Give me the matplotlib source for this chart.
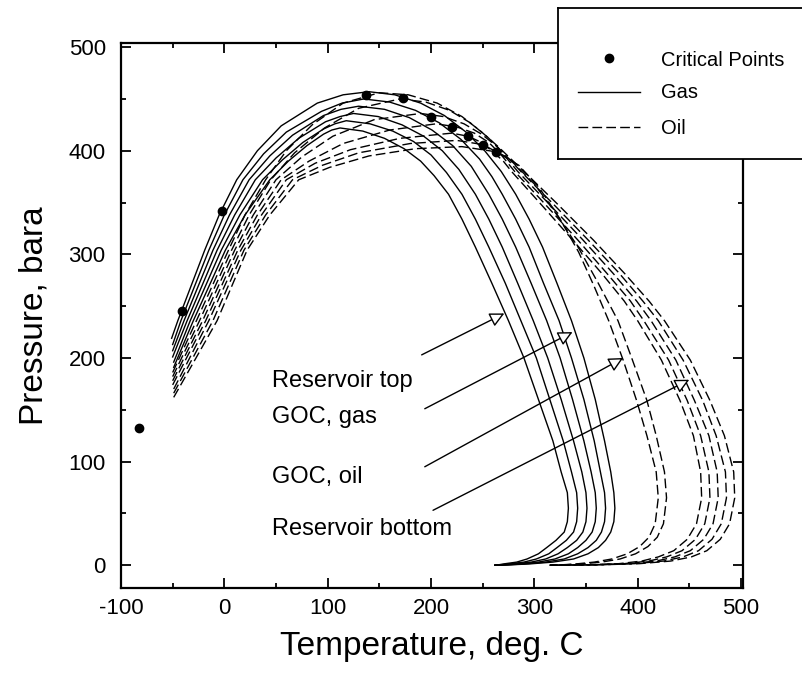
"""
Phase envelopes of gas and oil samples with critical points.
"""

import matplotlib
matplotlib.use("Agg")
import matplotlib.pyplot as plt
from matplotlib.lines import Line2D

plt.rcParams["font.family"] = ["Liberation Sans", "DejaVu Sans"]
plt.rcParams["axes.unicode_minus"] = False

# Critical points (deg C, bara)
crit_T = [-83, -41, -2, 137, 173, 200, 220, 236, 250, 263]
crit_P = [132, 245, 342, 454, 451, 433, 423, 414, 406, 399]

gas_P_low = [358, 334, 307, 272, 236, 200, 160, 120, 90, 70, 55, 42, 32, 24, 17, 11, 6, 3, 1.2, 0.3, 0]
oil_P_low = [380, 350, 314, 282, 255, 236, 198, 159, 125, 90, 65, 40, 25, 14, 8, 4, 1.5, 0.4, 0]

# Gas phase envelopes (solid): left branch + crest, then right branch
gas1_T = [-51, -45, -19, -5, 12, 32, 55, 90, 115, 140, 165, 190, 213, 234, 252, 268,
          282, 295, 308, 322, 336, 348, 359, 368, 374, 377, 378, 377, 374, 369, 362, 352, 338, 318, 295, 275, 262]
gas1_P = [219, 236, 304, 338, 372, 400, 424, 446, 454, 457, 454, 446, 434, 418, 400, 380] + gas_P_low
gas2_T = [-50, -42, -15, 0, 18, 38, 60, 94, 114, 135, 160, 185, 208, 229, 247, 259,
          269, 282, 295, 309, 324, 336, 348, 358, 364, 368, 369, 368, 365, 360, 352, 342, 329, 311, 290, 273, 262]
gas2_P = [213, 236, 304, 338, 372, 397, 418, 438, 446, 450, 447, 439, 427, 411, 392, 375] + gas_P_low
gas3_T = [-50, -39, -11, 5, 24, 44, 66, 96, 113, 130, 155, 179, 201, 221, 239,
          256, 269, 282, 297, 312, 325, 337, 348, 355, 359, 360, 359, 356, 350, 342, 333, 320, 304, 285, 271, 262]
gas3_P = [207, 236, 304, 338, 372, 395, 415, 434, 440, 443, 440, 432, 420, 405, 385] + gas_P_low
gas4_T = [-50, -36, -7, 10, 30, 50, 72, 98, 112, 125, 149, 172, 193, 211, 227,
          243, 256, 269, 284, 299, 313, 326, 338, 346, 350, 351, 350, 347, 341, 332, 323, 311, 297, 280, 269, 262]
gas4_P = [201, 236, 304, 338, 372, 393, 412, 428, 433, 436, 433, 425, 414, 400, 382] + gas_P_low
gas5_T = [-49, -33, -3, 15, 37, 56, 76, 96, 107, 118, 141, 163, 183, 200, 215,
          230, 243, 256, 272, 287, 302, 315, 328, 336, 341, 342, 341, 338, 331, 322, 314, 302, 290, 275, 267, 262]
gas5_P = [196, 236, 304, 338, 372, 391, 408, 421, 426, 429, 426, 419, 409, 396, 379] + gas_P_low
gas6_T = [-49, -30, 1, 20, 44, 62, 80, 96, 104, 112, 134, 155, 174, 190, 203,
          217, 230, 243, 259, 275, 290, 304, 318, 326, 332, 333, 332, 329, 321, 312, 304, 293, 283, 270, 265, 262]
gas6_P = [191, 236, 304, 338, 372, 390, 405, 416, 420, 422, 419, 412, 402, 390, 376] + gas_P_low

# Oil phase envelopes (dashed)
oil1_T = [-50, -27, 4, 20, 40, 60, 85, 115, 150, 178, 206, 230, 248, 265,
          290, 321, 357, 387, 411, 426, 451, 470, 484, 493, 494, 489, 480, 467, 452, 432, 402, 365, 315]
oil1_P = [186, 236, 304, 338, 372, 400, 425, 446, 456, 454, 446, 433, 419, 404] + oil_P_low
oil2_T = [-50, -24, 7, 24, 45, 68, 97, 130, 170, 195, 218, 238, 255, 271,
          287, 317, 352, 382, 405, 420, 444, 463, 476, 485, 486, 481, 472, 459, 444, 425, 397, 362, 315]
oil2_P = [182, 236, 304, 338, 372, 398, 422, 441, 450, 447, 439, 427, 413, 397] + oil_P_low
oil3_T = [-50, -21, 10, 28, 50, 75, 105, 145, 190, 212, 232, 249, 264,
          284, 313, 347, 376, 399, 413, 437, 455, 469, 477, 478, 473, 464, 451, 436, 418, 392, 359, 315]
oil3_P = [178, 236, 304, 338, 372, 394, 414, 430, 436, 433, 426, 416, 404] + oil_P_low
oil4_T = [-50, -18, 13, 32, 55, 82, 115, 160, 205, 225, 242, 256, 268,
          281, 309, 342, 370, 393, 406, 430, 448, 461, 469, 470, 465, 456, 443, 428, 411, 387, 356, 315]
oil4_P = [174, 236, 304, 338, 372, 390, 407, 420, 426, 423, 417, 408, 396] + oil_P_low
oil5_T = [-49, -15, 16, 36, 60, 88, 122, 170, 220, 236, 249, 260, 270,
          278, 305, 337, 365, 387, 400, 423, 441, 454, 461, 462, 457, 448, 435, 420, 404, 382, 353, 315]
oil5_P = [170, 236, 304, 338, 372, 388, 401, 412, 417, 414, 408, 399, 390] + oil_P_low
oil6_T = [-49, -11, 19, 40, 66, 95, 130, 180, 225, 250, 275, 300, 322, 343, 362, 381, 395, 409,
          418, 426, 428, 425, 419, 410, 398, 383, 365, 345, 330, 315]
oil6_P = [166, 236, 304, 338, 372, 386, 398, 407, 410, 406, 393, 368, 338, 306, 272, 236, 198, 159,
          125, 90, 65, 40, 27, 18, 11, 6, 3, 1.2, 0.4, 0]
oil7_T = [-49, -7, 22, 44, 72, 102, 140, 185, 230, 263, 285, 305, 325, 343, 358, 372, 386, 399,
          409, 418, 420, 417, 411, 402, 390, 375, 358, 340, 327, 315]
oil7_P = [162, 236, 304, 338, 372, 384, 395, 402, 404, 399, 386, 364, 334, 302, 269, 236, 198, 159,
          125, 90, 65, 40, 27, 18, 11, 6, 3, 1.2, 0.4, 0]

# Annotations: label text, arrow tail and arrow head (deg C, bara)
label_text = ["Reservoir top", "GOC, gas", "GOC, oil", "Reservoir bottom"]
label_P = [178, 143, 85, 35]
label_T0 = 46
arrow_tail = [(191, 203), (194, 151), (194, 95), (202, 53)]
arrow_head = [(271, 243), (337, 225), (386, 200), (450, 179)]

gas_curves = [(gas1_T, gas1_P), (gas2_T, gas2_P), (gas3_T, gas3_P),
              (gas4_T, gas4_P), (gas5_T, gas5_P), (gas6_T, gas6_P)]
oil_curves = [(oil1_T, oil1_P), (oil2_T, oil2_P), (oil3_T, oil3_P),
              (oil4_T, oil4_P), (oil5_T, oil5_P), (oil6_T, oil6_P),
              (oil7_T, oil7_P)]

W, H = 803, 683
fig = plt.figure(figsize=(W / 100, H / 100), dpi=100)
ax = fig.add_axes([121 / W, 1 - 588 / H, (743 - 121) / W, (588 - 43) / H])

for t, p in gas_curves:
    ax.plot(t, p, color="black", lw=1.0, solid_joinstyle="round")
for t, p in oil_curves:
    ax.plot(t, p, color="black", lw=1.0, linestyle=(0, (7, 3)))
ax.plot(crit_T, crit_P, "o", color="black", markersize=6, zorder=5)

for txt, p in zip(label_text, label_P):
    ax.text(label_T0, p, txt, fontsize=17, ha="left", va="center")
for tail, head in zip(arrow_tail, arrow_head):
    ax.annotate("", xy=head, xytext=tail,
                arrowprops=dict(arrowstyle="-|>", fc="white", ec="black",
                                lw=1.0, mutation_scale=22,
                                shrinkA=0, shrinkB=0))

ax.set_xlim(-100, 502)
ax.set_ylim(-22, 504)
ax.set_xticks(range(-100, 501, 100))
ax.set_yticks(range(0, 501, 100))
ax.set_xticks(range(-50, 501, 100), minor=True)
ax.set_yticks(range(50, 501, 100), minor=True)
ax.tick_params(which="both", direction="in", top=True, right=True,
               width=1.3, labelsize=16)
ax.tick_params(which="major", length=7)
ax.tick_params(which="minor", length=3.5)
ax.tick_params(axis="x", pad=7)
ax.tick_params(axis="y", pad=11)
for s in ax.spines.values():
    s.set_linewidth(1.6)

ax.set_xlabel("Temperature, deg. C", fontsize=24, labelpad=9)
ax.set_ylabel("Pressure, bara", fontsize=24, labelpad=14)

# Legend box, drawn in pixel-like units, sitting over the top right corner
lax = fig.add_axes([558 / W, 1 - 159 / H, 270 / W, (159 - 8) / H], zorder=10)
lax.set_xlim(0, 270)
lax.set_ylim(151, 0)
lax.set_xticks([])
lax.set_yticks([])
lax.set_facecolor("white")
for s in lax.spines.values():
    s.set_linewidth(1.3)
lax.plot([51], [50], "o", color="black", markersize=6)
lax.add_line(Line2D([20, 82], [84, 84], color="black", lw=1.0))
lax.add_line(Line2D([20, 82], [119, 119], color="black", lw=1.0,
                    linestyle=(0, (7, 3))))
lax.text(103, 52, "Critical Points", fontsize=14.5, va="center")
lax.text(103, 85, "Gas", fontsize=14.5, va="center")
lax.text(103, 120, "Oil", fontsize=14.5, va="center")

fig.savefig("out.png", dpi=100)
